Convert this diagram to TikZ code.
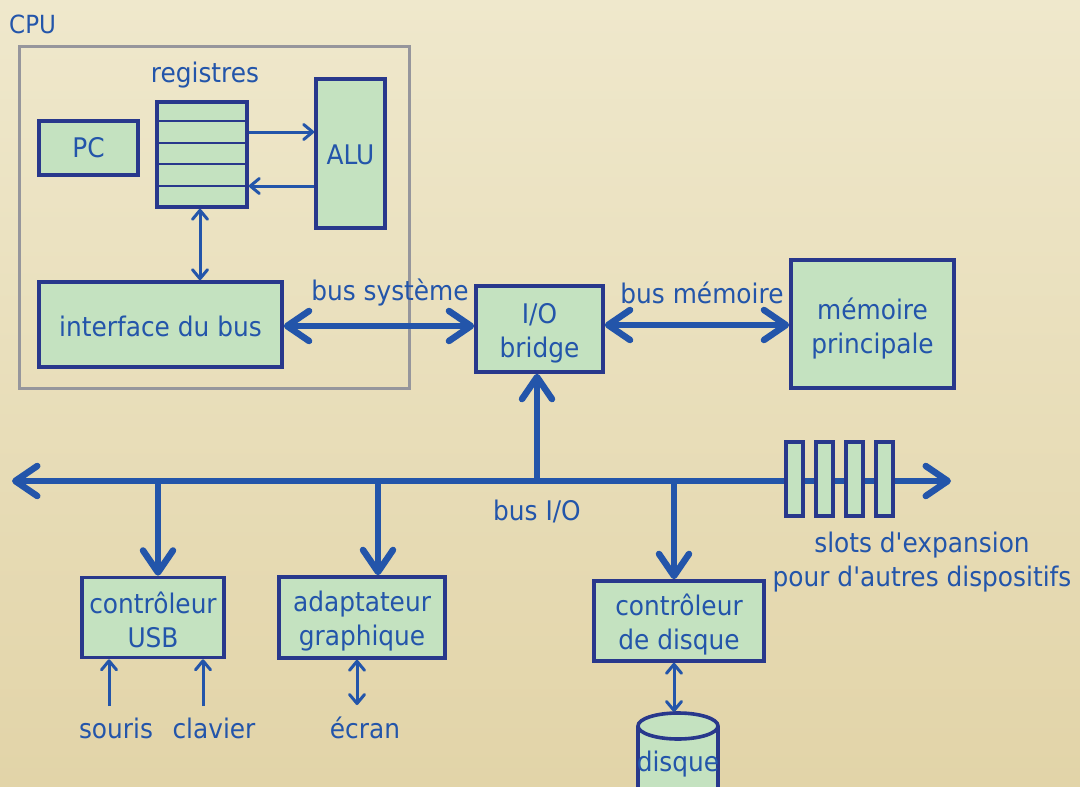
\documentclass[tikz,border=0pt]{standalone}
\usepackage{fontspec}
\setmainfont{DejaVu Sans}[FakeStretch=0.92,Ligatures=TeXReset]
\usetikzlibrary{arrows.meta}
\definecolor{bgtop}{RGB}{239,232,204}
\definecolor{bgbot}{RGB}{226,212,168}
\definecolor{boxfill}{RGB}{196,226,192}
\definecolor{boxline}{RGB}{40,56,140}
\definecolor{ink}{RGB}{35,85,170}
\definecolor{cpugray}{RGB}{150,150,156}
\tikzset{
  box/.style={draw=boxline, fill=boxfill, line width=3.6pt, inner sep=0pt, text=ink, align=center, font=\fontsize{27}{34}\selectfont},
  lbl/.style={text=ink, inner sep=0pt, align=center, font=\fontsize{27}{34}\selectfont},
  thinline/.style={draw=ink, line width=3pt},
  thinhead/.style={-{Straight Barb[length=9pt,width=15pt,round]}},
  thinboth/.style={{Straight Barb[length=9pt,width=15pt,round]}-{Straight Barb[length=9pt,width=15pt,round]}},
  busline/.style={draw=ink, line width=6.5pt},
  bushead/.style={-{Straight Barb[length=22pt,width=30pt,round]}},
  busboth/.style={{Straight Barb[length=22pt,width=30pt,round]}-{Straight Barb[length=22pt,width=30pt,round]}},
}
\begin{document}
\begin{tikzpicture}[x=1pt,y=-1pt]
\useasboundingbox (0,0) rectangle (1080,787);
\shade[top color=bgtop, bottom color=bgbot] (0,0) rectangle (1080,787);

% CPU frame
\node[lbl, anchor=west, font=\fontsize{25}{30}\selectfont] (cpulbl) at (9,24) {CPU};
\draw[cpugray, line width=3pt] (19,46) rectangle (409,388);

% CPU internals
\node[box, minimum width=99pt, minimum height=54pt] (pc) at (88.5,148) {PC};
\node[box, minimum width=90pt, minimum height=105pt] (reg) at (202,154.5) {};
\node[lbl] (reglbl) at (205,75) {registres};
\foreach \yy in {121,143,164,186}
  \draw[boxline, line width=2pt] (reg.west |- 0,\yy) -- (reg.east |- 0,\yy);
\node[box, minimum width=69pt, minimum height=149pt] (alu) at (350.5,153.5) {};
\node[lbl] (aluT) at (350.5,155) {ALU};
\node[box, minimum width=243pt, minimum height=85pt] (iface) at (160.5,324.5) {};
\node[lbl] (ifaceT) at (160.5,326) {interface du bus};

\draw[thinline, thinhead] (reg.east |- 0,132) -- (alu.west |- 0,132);
\draw[thinline, thinhead] (alu.west |- 0,186) -- (reg.east |- 0,186);
\draw[thinline, thinboth] (reg.south -| 200,0) -- (iface.north -| 200,0);

% bridge and memory
\node[box, minimum width=127pt, minimum height=86pt] (bridge) at (539.5,329) {};
\node[lbl] (bridgeT) at (539.5,333) {I/O\\bridge};
\node[box, minimum width=163pt, minimum height=128pt] (mem) at (872.5,324) {};
\node[lbl] (memT) at (872.5,329) {mémoire\\principale};
\draw[busline, busboth] (iface.east |- 0,326) -- (bridge.west |- 0,326);
\draw[busline, busboth] (bridge.east |- 0,325) -- (mem.west |- 0,325);
\node[lbl] (bsys) at (390,293) {bus système};
\node[lbl] (bmem) at (702,293) {bus mémoire};

% I/O bus
\coordinate (busL) at (12,481);
\coordinate (busR) at (951,481);
\coordinate (tapBridge) at (537,481);
\coordinate (tapUSB) at (158,481);
\coordinate (tapGfx) at (378,481);
\coordinate (tapDisk) at (674,481);
\draw[busline, busboth] (busL) -- (busR);
\draw[busline, bushead] (tapBridge) -- (tapBridge |- bridge.south);
\node[lbl] (bio) at (537,511) {bus I/O};

% expansion slots
\foreach \xx/\nm in {794.5/s1,824.5/s2,854.5/s3,884.5/s4}
  \node[draw=boxline, fill=boxfill, line width=3.6pt, minimum width=17pt, minimum height=74pt, inner sep=0pt] (\nm) at (\xx,479) {};
\node[lbl] (slotlbl) at (922,562) {slots d'expansion\\pour d'autres dispositifs};

% devices
\node[box, minimum width=142pt, minimum height=80pt] (usb) at (153,617.5) {};
\node[lbl] (usbT) at (153,620) {contrôleur\\USB};
\node[box, minimum width=166pt, minimum height=81pt] (gfx) at (362,617.5) {};
\node[lbl] (gfxT) at (362,621) {adaptateur\\graphique};
\node[box, minimum width=170pt, minimum height=80pt] (dctrl) at (679,621) {};
\node[lbl] (dctrlT) at (679,625) {contrôleur\\de disque};
\draw[busline, bushead] (tapUSB) -- (tapUSB |- usb.north);
\draw[busline, bushead] (tapGfx) -- (tapGfx |- gfx.north);
\draw[busline, bushead] (tapDisk) -- (tapDisk |- dctrl.north);

% peripherals
\node[lbl] (souris) at (116,728) {souris};
\node[lbl] (clavier) at (214,728) {clavier};
\node[lbl] (ecran) at (365,728) {écran};
\coordinate (sIn) at (109,706);
\coordinate (cIn) at (203,706);
\coordinate (eIn) at (357,705);
\coordinate (dTop) at (674,712);
\draw[thinline, thinhead] (sIn) -- (sIn |- usb.south);
\draw[thinline, thinhead] (cIn) -- (cIn |- usb.south);
\draw[thinline, thinboth] (eIn |- gfx.south) -- (eIn);
\draw[thinline, thinboth] (dTop |- dctrl.south) -- (dTop);

% disk cylinder
\fill[boxfill] (638,726) rectangle (718,800);
\draw[boxline, line width=3.6pt] (638,726) -- (638,800) (718,726) -- (718,800);
\draw[boxline, fill=boxfill, line width=3.6pt] (678,726) ellipse [x radius=40pt, y radius=13pt];
\node[lbl] (disk) at (678,764) {disque};
\end{tikzpicture}
\end{document}
